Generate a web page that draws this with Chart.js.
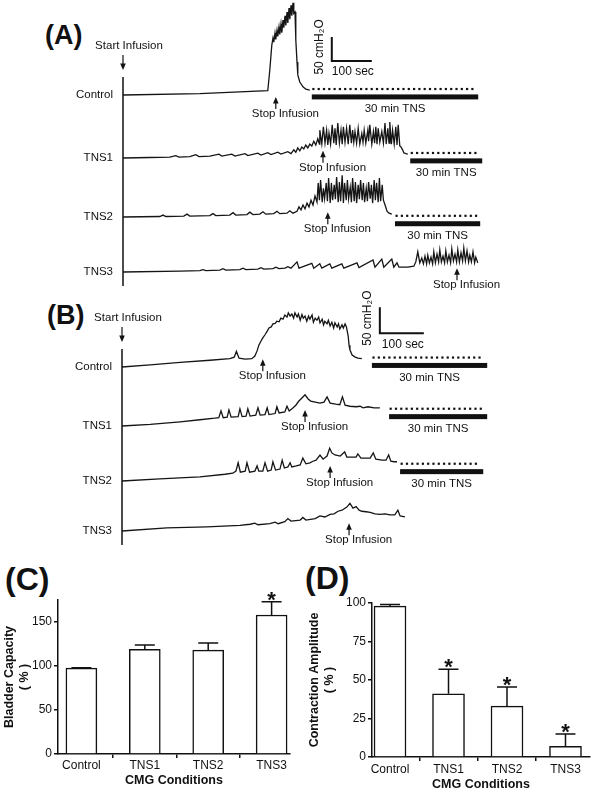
<!DOCTYPE html>
<html>
<head>
<meta charset="utf-8">
<script src="https://cdn.jsdelivr.net/npm/chart.js@4.4.0/dist/chart.umd.min.js"></script>
<style>
  body { margin: 0; background: #fff; width: 600px; height: 792px; position: relative; overflow: hidden; font-family: "Liberation Sans", Arial, sans-serif; }
  canvas { position: absolute; }
  .letter { position: absolute; font-weight: bold; line-height: 1; color: #111; }
</style>
</head>
<body>
<div class="letter" style="left:45px;top:22px;font-size:27px">(A)</div>
<div class="letter" style="left:47px;top:302px;font-size:27px">(B)</div>
<div class="letter" style="left:5px;top:563px;font-size:32px">(C)</div>
<div class="letter" style="left:305px;top:562px;font-size:32px">(D)</div>

<canvas id="cA" width="600" height="292" style="left:0;top:0"></canvas>
<canvas id="cB" width="600" height="265" style="left:0;top:280px"></canvas>
<canvas id="cC" width="300" height="232" style="left:0;top:560px"></canvas>
<canvas id="cD" width="300" height="232" style="left:300px;top:560px"></canvas>

<script>
// CMG traces: [time (sec), pressure (cmH2O above start)]
const ctrlA = [[0,0],[192,3],[362,9],[367,52],[372,104],[375,119],[377,110],[380,129],[382,116],[385,135],[387,122],[390,142],[392,126],[395,148],[397,130],[400,156],[402,140],[405,165],[407,145],[410,173],[412,150],[415,181],[417,158],[420,187],[422,165],[425,192],[427,170],[430,173],[432,115],[435,69],[437,42],[442,27],[450,17],[457,12],[467,10]];

const tns1A = [[0,0],[67,1],[117,2],[132,5],[140,2],[167,3],[182,7],[190,3],[217,4],[240,8],[247,4],[272,8],[280,4],[305,9],[312,5],[337,10],[345,6],[362,11],[370,7],[387,12],[395,8],[412,13],[420,9],[427,17],[432,12],[437,21],[442,15],[447,23],[452,19],[457,27],[462,21],[467,29],[472,25],[477,35],[482,27],[487,40],[491,29],
  [492,58],[497,29],[501,65],[505,31],[509,58],[512,27],[515,52],[519,29],[523,69],[527,31],[530,62],[533,27],[537,73],[541,31],[545,58],[548,29],[551,65],[555,33],[559,62],[563,29],[567,69],[571,31],[574,58],[577,33],[580,55],[584,31],[588,62],[592,29],[597,51],[600,33],[603,58],[607,31],[612,58],[614,35],[617,69],[622,29],[626,55],[629,31],[632,65],[635,29],[638,62],[642,33],[647,55],[651,31],[655,73],[658,29],[662,62],[665,31],[667,75],[671,29],[674,58],[678,29],[682,65],[685,27],[688,69],[692,25],[695,23],[699,17],[702,11],[707,9],[712,8]];

const tns2A = [[0,0],[92,1],[100,4],[107,1],[152,2],[160,6],[167,2],[217,3],[225,7],[232,3],[267,4],[275,9],[282,4],[310,5],[317,10],[325,5],[342,6],[350,11],[357,6],[377,7],[385,12],[392,7],[410,8],[417,13],[425,8],[435,12],[440,21],[445,15],[450,25],[455,17],[460,29],[465,21],[470,35],[475,25],[480,44],[485,31],
  [488,71],[491,35],[494,77],[498,31],[501,60],[504,38],[508,71],[511,33],[514,81],[518,29],[521,71],[524,35],[528,67],[531,37],[534,83],[538,31],[541,73],[544,33],[548,87],[551,29],[554,71],[558,35],[561,77],[564,38],[568,62],[571,31],[574,81],[578,33],[581,73],[584,29],[588,67],[591,37],[594,77],[598,35],[601,71],[604,31],[608,60],[611,33],[614,73],[618,38],[621,67],[624,29],[628,77],[631,35],[634,71],[638,31],[641,81],[644,33],[648,67],[651,35],[656,23],[660,12],[665,8],[672,6]];

const tns3A = [[0,0],[142,2],[192,3],[200,5],[207,3],[242,4],[250,7],[257,4],[292,5],[300,8],[307,5],[337,6],[345,9],[352,6],[375,7],[382,10],[390,7],[405,8],[412,11],[420,8],[435,21],[440,8],[472,18],[477,8],[492,17],[497,8],[517,17],[522,8],[547,17],[552,8],[585,19],[590,9],[625,25],[630,10],[647,27],[652,10],[672,27],[677,10],[685,19],[690,10],[712,10],[727,12],[732,21],[737,42],[742,19],[747,29],[751,17],[755,33],[759,17],[762,35],[766,19],[770,31],[774,17],[777,42],[781,19],[785,37],[789,21],[792,46],[796,21],[800,33],[804,19],[807,44],[811,21],[815,35],[819,19],[822,48],[826,23],[830,37],[834,21],[837,46],[841,21],[845,40],[849,23],[852,50],[856,23],[860,44],[864,21],[867,35],[871,21],[875,42],[879,19],[882,31],[887,19]];

const ctrlB = [[0,0],[64,4],[132,9],[200,13],[245,16],[255,19],[260,30],[266,17],[280,15],[295,16],[302,21],[307,31],[311,42],[316,50],[320,56],[325,62],[330,69],[334,75],[339,77],[343,83],[348,84],[352,88],[357,87],[361,94],[366,92],[370,100],[375,96],[378,104],[382,98],[386,102],[390,94],[393,104],[398,96],[401,102],[405,90],[409,101],[412,94],[416,98],[420,88],[424,98],[427,92],[432,100],[435,86],[439,94],[443,90],[447,96],[450,85],[455,92],[458,81],[461,88],[466,83],[469,90],[473,79],[477,86],[481,75],[484,85],[489,77],[492,83],[495,73],[500,81],[503,75],[507,83],[510,77],[514,60],[516,42],[518,33],[523,23],[530,19],[536,17],[545,16]];

const tns1B = [[0,0],[64,3],[132,8],[177,12],[211,15],[220,16],[225,29],[230,16],[239,17],[243,31],[248,17],[264,18],[268,33],[273,18],[282,19],[286,33],[291,19],[304,21],[309,35],[314,21],[325,22],[330,35],[334,22],[348,24],[352,37],[357,25],[370,27],[375,38],[380,29],[389,35],[395,40],[402,48],[409,54],[416,60],[423,52],[429,48],[439,46],[450,44],[459,46],[466,56],[473,44],[486,42],[495,41],[501,56],[507,40],[518,38],[532,37],[541,38],[548,35],[559,37],[573,35],[586,35]];

const tns2B = [[0,0],[86,4],[177,8],[234,13],[252,15],[259,19],[264,35],[269,17],[280,19],[284,35],[290,17],[302,19],[307,29],[311,19],[320,19],[325,35],[331,19],[339,21],[343,37],[349,21],[359,23],[364,40],[369,25],[377,27],[382,35],[386,27],[396,29],[405,31],[411,44],[418,33],[427,35],[434,38],[441,40],[450,50],[457,42],[466,48],[472,63],[477,54],[484,50],[496,48],[506,56],[511,46],[523,46],[532,46],[536,52],[543,44],[555,44],[564,44],[571,54],[577,42],[591,40],[600,40],[606,50],[611,38],[618,37],[625,37]];

const tns3B = [[0,0],[102,6],[193,8],[268,11],[291,13],[302,15],[309,12],[336,14],[348,17],[355,14],[370,18],[377,24],[384,19],[405,21],[411,26],[418,21],[439,24],[450,29],[461,27],[473,32],[482,33],[491,38],[500,40],[511,46],[518,53],[525,44],[532,47],[539,40],[545,38],[555,37],[564,36],[575,33],[586,32],[598,33],[609,31],[620,31],[627,40],[632,29],[643,27]];

const traceNames = ['Control', 'TNS1', 'TNS2', 'TNS3'];

// Stop Infusion time (sec) and arrow tip level (cmH2O), per trace
const stopA = [382, 500, 512, 835];
const stopTipA = [-4, 15, 10, 8];
const stopB = [320, 416, 473, 516];
const stopTipB = [15, 31, 29, 15];

// 30 min TNS bar: start sec, end sec, level cmH2O
const tnsA = [[472, 888, -4], [718, 898, -6], [680, 893, -14]];
const tnsB = [[568, 830, 3], [607, 830, 18], [632, 821, 18]];

// scale bar (100 sec x 50 cmH2O): start sec, level on Control axis
const scaleBarA = [522, 71];
const scaleBarB = [586, 65];

// summary bars
const categories = ['Control', 'TNS1', 'TNS2', 'TNS3'];
const capacity = [97.5, 119, 118, 158];
const capacitySem = [0.5, 5, 8, 15];
const capacityStar = [0, 0, 0, 1];
const capacityTicks = [0, 50, 100, 150];
const amplitude = [98, 41, 33, 7];
const amplitudeSem = [1, 16, 12.5, 8];
const amplitudeStar = [0, 1, 1, 1];
const amplitudeTicks = [0, 25, 50, 75, 100];

const FONT = '"Liberation Sans", Arial, sans-serif';
const INK = '#111';
Chart.defaults.font.family = FONT;
Chart.defaults.color = INK;

function drawArrow(ctx, x, yTail, yTip) {
    const dir = yTip > yTail ? 1 : -1;
    ctx.lineWidth = 1.2;
    ctx.beginPath();
    ctx.moveTo(x, yTail);
    ctx.lineTo(x, yTip - dir * 4);
    ctx.stroke();
    ctx.beginPath();
    ctx.moveTo(x, yTip);
    ctx.lineTo(x - 2.8, yTip - dir * 6.5);
    ctx.lineTo(x + 2.8, yTip - dir * 6.5);
    ctx.closePath();
    ctx.fill();
}

function traceNotes(o) {
    return {
        id: 'traceNotes',
        afterDatasetsDraw(chart) {
            const ctx = chart.ctx;
            const xs = chart.scales.x;
            const ys = i => chart.scales['y' + i];
            const px = t => xs.getPixelForValue(t);
            const x0 = px(0);
            const top = ys(0).getPixelForValue(0) - 18;
            const bottom = ys(3).getPixelForValue(0) + 14;

            ctx.save();
            ctx.strokeStyle = INK;
            ctx.fillStyle = INK;
            ctx.font = '11.5px ' + FONT;
            ctx.textBaseline = 'middle';

            // start of infusion
            ctx.lineWidth = 1.5;
            ctx.beginPath();
            ctx.moveTo(x0, top);
            ctx.lineTo(x0, bottom);
            ctx.stroke();
            drawArrow(ctx, x0, top - 22, top - 7);
            ctx.textAlign = 'center';
            ctx.fillText('Start Infusion', x0 + 6, top - 31);

            ctx.textAlign = 'right';
            traceNames.forEach((n, i) => ctx.fillText(n, x0 - 10, ys(i).getPixelForValue(0)));

            ctx.textAlign = 'left';
            o.stops.forEach((t, i) => {
                const x = px(t), y = ys(i).getPixelForValue(o.tips[i]);
                drawArrow(ctx, x, y + 12, y);
                ctx.fillText('Stop Infusion', x - 24, y + 17);
            });

            ctx.textAlign = 'center';
            o.tns.forEach(([t0, t1, p], i) => {
                const xa = px(t0), xb = px(t1), y = ys(i).getPixelForValue(p);
                ctx.fillRect(xa, y - 2.5, xb - xa, 5);
                for (let x = xa + 1.5; x <= xb - 4; x += 5.3) {
                    ctx.fillRect(x - 1, y - 9, 2.2, 2.2);
                }
                ctx.fillText('30 min TNS', (xa + xb) / 2, y + 12);
            });

            // calibration bar
            const [bt, bp] = o.bar;
            const bx = px(bt), by = ys(0).getPixelForValue(bp);
            const bx2 = px(bt + 100), by2 = ys(0).getPixelForValue(bp + 50);
            ctx.lineWidth = 2;
            ctx.beginPath();
            ctx.moveTo(bx, by2);
            ctx.lineTo(bx, by);
            ctx.lineTo(bx2, by);
            ctx.stroke();
            ctx.font = '12px ' + FONT;
            ctx.fillText('100 sec', (bx + bx2) / 2 + 1, by + 11);
            ctx.translate(bx - 12, (by + by2) / 2 - 2);
            ctx.rotate(-Math.PI / 2);
            ctx.fillText('50 cmH\u2082O', 0, 0);
            ctx.restore();
        }
    };
}

function traceChart(id, traces, o) {
    const canvas = document.getElementById(id);
    const W = canvas.width, H = canvas.height;
    const scales = {
        x: { type: 'linear', display: false, min: -o.x0 * o.secPx, max: (W - o.x0) * o.secPx }
    };
    o.baseY.forEach((yb, i) => {
        scales['y' + i] = { type: 'linear', display: false, min: (yb - H) * o.cmPx, max: yb * o.cmPx };
    });

    return new Chart(canvas, {
        type: 'line',
        data: {
            datasets: traces.map((d, i) => ({
                data: d.map(p => ({ x: p[0], y: p[1] })),
                yAxisID: 'y' + i,
                borderColor: '#151515',
                borderWidth: 1.3,
                pointRadius: 0,
                tension: 0,
                fill: false
            }))
        },
        options: {
            responsive: false, animation: false, devicePixelRatio: 1,
            layout: { padding: 0 },
            plugins: { legend: { display: false }, tooltip: { enabled: false } },
            scales: scales
        },
        plugins: [traceNotes(o)]
    });
}

function barChart(id, values, sem, stars, tickVals, yTitle, box) {
    const canvas = document.getElementById(id);

    const errorBars = {
        id: 'errorBars',
        afterDatasetsDraw(chart) {
            const ctx = chart.ctx, y = chart.scales.y;
            const bars = chart.getDatasetMeta(0).data;
            ctx.save();
            ctx.strokeStyle = INK;
            ctx.fillStyle = INK;
            ctx.lineWidth = 1.5;
            bars.forEach((bar, i) => {
                const yv = y.getPixelForValue(values[i]);
                const ye = y.getPixelForValue(values[i] + sem[i]);
                ctx.beginPath();
                ctx.moveTo(bar.x, yv);
                ctx.lineTo(bar.x, ye);
                ctx.moveTo(bar.x - 10, ye);
                ctx.lineTo(bar.x + 10, ye);
                ctx.stroke();
                if (stars[i]) {
                    ctx.font = 'bold 22px ' + FONT;
                    ctx.textAlign = 'center';
                    ctx.textBaseline = 'alphabetic';
                    ctx.fillText('*', bar.x, ye + 5);
                }
            });
            ctx.restore();
        }
    };

    const axisLine = { color: INK, width: 1.5 };
    const tickGrid = { drawOnChartArea: false, tickLength: 4, color: INK, lineWidth: 1.5 };

    return new Chart(canvas, {
        type: 'bar',
        data: {
            datasets: [{
                data: values.map((v, i) => ({ x: i, y: v })),
                backgroundColor: '#fff',
                borderColor: INK,
                borderWidth: 1.5,
                barThickness: box.barW
            }]
        },
        options: {
            responsive: false, animation: false, devicePixelRatio: 1,
            layout: { padding: { top: box.top, right: box.right, left: 0, bottom: 0 } },
            plugins: { legend: { display: false }, tooltip: { enabled: false } },
            scales: {
                x: {
                    type: 'linear', min: box.xMin, max: box.xMax, offset: false,
                    afterBuildTicks: s => { s.ticks = categories.map((c, i) => ({ value: i })); },
                    afterFit: s => { s.height = box.xH; },
                    ticks: { callback: v => categories[v], font: { size: 12 }, color: INK, padding: box.xPad, autoSkip: false, maxRotation: 0 },
                    grid: tickGrid,
                    border: axisLine,
                    title: { display: true, text: 'CMG Conditions', color: INK, font: { size: 12.5, weight: 'bold', lineHeight: 1.2 }, padding: { top: 0, bottom: box.titleB } }
                },
                y: {
                    min: 0, max: box.yMax,
                    afterBuildTicks: s => { s.ticks = tickVals.map(v => ({ value: v })); },
                    afterFit: s => { s.width = box.yW; },
                    ticks: { font: { size: 12 }, color: INK, padding: 2 },
                    grid: tickGrid,
                    border: axisLine,
                    title: { display: true, text: [yTitle, '( % )'], color: INK, font: { size: 12.5, weight: 'bold', lineHeight: 1.2 }, padding: { top: box.titleT, bottom: 0 } }
                }
            }
        },
        plugins: [errorBars]
    });
}

traceChart('cA', [ctrlA, tns1A, tns2A, tns3A], {
    x0: 123, secPx: 2.5, cmPx: 50 / 24,
    baseY: [95, 158, 217, 272],
    stops: stopA, tips: stopTipA, tns: tnsA, bar: scaleBarA
});

traceChart('cB', [ctrlB, tns1B, tns2B, tns3B], {
    x0: 122, secPx: 100 / 44, cmPx: 50 / 26,
    baseY: [87, 146, 201, 251],
    stops: stopB, tips: stopTipB, tns: tnsB, bar: scaleBarB
});

barChart('cC', capacity, capacitySem, capacityStar, capacityTicks, 'Bladder Capacity', {
    top: 40, right: 10, xH: 38, yW: 58, yMax: 175,
    xMin: -0.369, xMax: 3.29, barW: 31, titleT: 2.5, titleB: 3.5, xPad: 0
});

barChart('cD', amplitude, amplitudeSem, amplitudeStar, amplitudeTicks, 'Contraction Amplitude', {
    top: 43, right: 10, xH: 35, yW: 72, yMax: 100,
    xMin: -0.308, xMax: 3.419, barW: 32, titleT: 7.5, titleB: 0, xPad: 1
});
</script>
</body>
</html>
